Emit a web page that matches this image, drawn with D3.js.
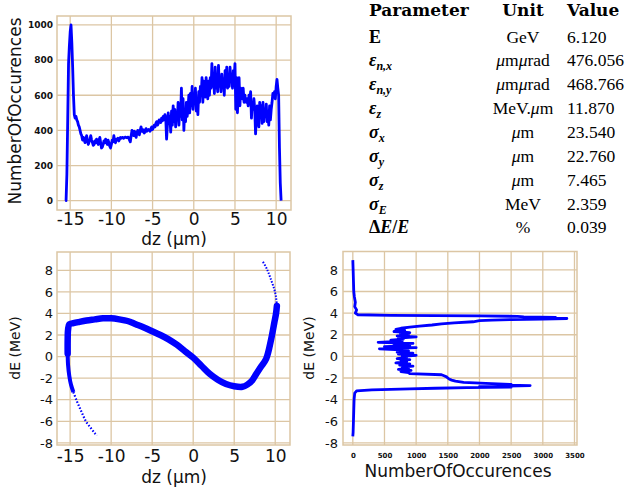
<!DOCTYPE html>
<html>
<head>
<meta charset="utf-8">
<script src="https://cdn.jsdelivr.net/npm/d3@7"></script>
<style>
  body { margin: 0; background: #fff; }
</style>
</head>
<body>
<div id="chart"></div>
<script>
// ---- longitudinal histogram (dz bins of 0.1 um starting at -15.6) ----
const dzStart = -15.6;
const dzStep = 0.1;
const dzCounts = [
  0, 0, 150, 460, 780, 880, 960,
  1000, 900, 760, 600, 490, 470, 480, 460, 450, 430,
  420, 400, 380, 370, 345, 360, 350, 330, 350, 370,
  340, 320, 335, 350, 370, 345, 330, 315, 320, 340,
  330, 350, 335, 320, 345, 360, 330, 300, 305, 320,
  340, 330, 350, 335, 320, 345, 330, 310, 300, 320,
  345, 335, 370, 340, 330, 350, 345, 355, 340, 350,
  360, 355, 360, 360, 355, 360, 362, 360, 358, 362,
  360, 345, 335, 370, 400, 385, 370, 395, 380, 360,
  385, 400, 390, 375, 400, 420, 395, 405, 390, 385,
  400, 410, 395, 400, 405, 400, 395, 410, 420, 405,
  415, 430, 420, 440, 450, 430, 440, 460, 450, 445,
  470, 455, 480, 460, 490, 470, 350, 430, 500, 440,
  480, 390, 510, 430, 540, 450, 520, 420, 500, 460,
  560, 430, 550, 480, 640, 460, 580, 400, 520, 450,
  560, 480, 520, 600, 500, 610, 540, 650, 520, 600,
  560, 640, 510, 580, 490, 620, 560, 650, 600, 700,
  560, 680, 600, 590, 700, 620, 580, 680, 600, 700,
  640, 780, 650, 720, 610, 760, 640, 700, 620, 770,
  650, 700, 620, 720, 650, 680, 600, 740, 650, 760,
  640, 700, 650, 760, 680, 720, 640, 740, 700, 780,
  520, 700, 500, 640, 700, 540, 640, 600, 580, 640,
  560, 600, 570, 560, 580, 540, 600, 570, 620, 470,
  560, 520, 580, 520, 380, 480, 540, 460, 420, 560,
  480, 540, 440, 560, 450, 520, 480, 550, 450, 500,
  430, 540, 460, 520, 560, 610, 590, 620, 580, 650,
  690, 640, 600, 300, 100, 0
];

// ---- longitudinal phase space (band centre line and sparse tails) ----
const bandDz = [-15.3, -15.3, -15.25, -15.1, -14.6, -14.0, -13.0, -12.0, -11.0, -10.0, -9.0, -8.0, -7.0,
  -6.0, -5.0, -4.0, -3.0, -2.0, -1.0, 0.0, 1.0, 2.0, 3.0, 4.0, 5.0, 6.0, 6.6, 7.2, 7.7, 8.3, 8.9, 9.5, 9.9, 10.1, 10.2];
const bandDe = [0.3, 1.5, 2.5, 3.0, 3.1, 3.2, 3.35, 3.45, 3.55, 3.55, 3.45, 3.3, 3.0,
  2.7, 2.35, 2.0, 1.6, 1.1, 0.5, -0.1, -0.85, -1.6, -2.15, -2.55, -2.75, -2.8, -2.6, -2.2, -1.6, -0.9, -0.2, 1.6, 3.2, 4.0, 4.7];
const leftTailDz = [-15.3, -15.25, -15.1, -14.9, -14.6, -14.2, -13.8, -13.4, -13.0, -12.5, -12.0, -11.7];
const leftTailDe = [0.3, -0.8, -1.8, -2.6, -3.3, -4.1, -4.8, -5.5, -6.1, -6.6, -7.1, -7.3];
const rightTailDz = [10.2, 10.1, 9.9, 9.5, 9.0, 8.5];
const rightTailDe = [4.7, 5.5, 6.2, 7.1, 8.1, 8.8];

// ---- energy histogram ----
const deLevels = [8.9, 8.0, 7.0, 6.0, 5.5, 5.0, 4.6, 4.3, 4.0, 3.85, 3.8, 3.75, 3.7, 3.65, 3.6, 3.55, 3.5, 3.45, 3.4, 3.35, 3.3,
  3.2, 3.1, 3.0, 2.9, 2.8, 2.7, 2.6, 2.5, 2.4, 2.3, 2.2, 2.1, 2.0, 1.9, 1.8, 1.7, 1.6, 1.5, 1.4, 1.3, 1.2, 1.1, 1.0,
  0.9, 0.8, 0.7, 0.6, 0.5, 0.4, 0.3, 0.2, 0.1, 0.0, -0.1, -0.2, -0.3, -0.4, -0.5, -0.6, -0.7, -0.8, -0.9, -1.0,
  -1.1, -1.2, -1.3, -1.4, -1.5, -1.6, -1.7, -1.8, -1.9, -2.0, -2.1, -2.2, -2.3, -2.4, -2.5, -2.6, -2.65, -2.7,
  -2.75, -2.8, -2.85, -2.9, -2.95, -3.0, -3.1, -3.2, -3.4, -4.0, -5.0, -6.0, -7.0, -7.4];
const deCounts = [0, 5, 10, 15, 25, 40, 30, 60, 40, 80, 600, 2000, 2600, 2700, 3200, 3000, 3380, 3000, 2500, 2200, 2000,
  1900, 1600, 1400, 1250, 1050, 900, 760, 680, 820, 650, 900, 750, 880, 700, 1000, 720, 800, 600, 780, 400, 950, 650, 900,
  500, 1000, 420, 750, 880, 700, 950, 720, 1000, 780, 850, 700, 900, 760, 850, 680, 900, 740, 950, 780,
  880, 720, 920, 760, 880, 900, 1400, 1440, 1480, 1500, 1520, 1560, 1620, 1750, 2100, 2500, 2300, 2800,
  2400, 2000, 2500, 1800, 1300, 900, 300, 60, 30, 20, 15, 10, 5, 0];

// ---- parameter table ----
const tableHeader = ["Parameter", "Unit", "Value"];
const tableSymbols = [
  [["E", "b"]],
  [["ε", "bi"], ["n,x", "sub"]],
  [["ε", "bi"], ["n,y", "sub"]],
  [["ε", "bi"], ["z", "sub"]],
  [["σ", "bi"], ["x", "sub"]],
  [["σ", "bi"], ["y", "sub"]],
  [["σ", "bi"], ["z", "sub"]],
  [["σ", "bi"], ["E", "sub"]],
  [["Δ", "b"], ["E", "bi"], ["/", "b"], ["E", "bi"]]
];
const tableUnits = ["GeV", "μmμrad", "μmμrad", "MeV.μm", "μm", "μm", "μm", "MeV", "%"];
const tableValues = ["6.120", "476.056", "468.766", "11.870", "23.540", "22.760", "7.465", "2.359", "0.039"];

const dzTicks = [-15, -10, -5, 0, 5, 10];
const countTicks = [0, 200, 400, 600, 800, 1000];
const deTicks = [-8, -6, -4, -2, 0, 2, 4, 6, 8];
const deCountTicks = [0, 500, 1000, 1500, 2000, 2500, 3000, 3500];

const width = 627;
const height = 489;
const gridColor = "#dcc6a4";
const blue = "#0000ff";
const sans = "DejaVu Sans, sans-serif";

const svg = d3.select("#chart").append("svg")
    .attr("width", width)
    .attr("height", height);

// draws grid + frame for one panel
function drawFrame(x, y, xTicks, yTicks) {
    const [x0, x1] = x.range();
    const [yb, yt] = y.range();
    const g = svg.append("g");
    g.selectAll(".vg").data(xTicks).join("line")
        .attr("x1", d => x(d)).attr("x2", d => x(d))
        .attr("y1", yt).attr("y2", yb)
        .attr("stroke", gridColor).attr("stroke-width", 1.3);
    g.selectAll(".hg").data(yTicks).join("line")
        .attr("x1", x0).attr("x2", x1)
        .attr("y1", d => y(d)).attr("y2", d => y(d))
        .attr("stroke", gridColor).attr("stroke-width", 1.3);
    g.append("rect")
        .attr("x", x0).attr("y", yt)
        .attr("width", x1 - x0).attr("height", yb - yt)
        .attr("fill", "none").attr("stroke", gridColor).attr("stroke-width", 1.5);
}

function drawAxes(x, y, xTicks, yTicks, opt) {
    const [yb] = y.range();
    const [x0] = x.range();
    const ax = svg.append("g")
        .attr("transform", `translate(0,${yb})`)
        .call(d3.axisBottom(x).tickValues(xTicks).tickSize(0).tickPadding(opt.xPad).tickFormat(d => String(d)));
    ax.select(".domain").remove();
    ax.selectAll("text").attr("font-family", sans).attr("font-size", opt.xSize)
        .attr("font-weight", opt.xBold ? "bold" : "normal").attr("fill", "#111");
    const ay = svg.append("g")
        .attr("transform", `translate(${x0},0)`)
        .call(d3.axisLeft(y).tickValues(yTicks).tickSize(0).tickPadding(opt.yPad).tickFormat(d => String(d)));
    ay.select(".domain").remove();
    ay.selectAll("text").attr("font-family", sans).attr("font-size", opt.ySize)
        .attr("font-weight", opt.yBold ? "bold" : "normal").attr("fill", "#111");
}

function title(text, x, y, size, rotate) {
    svg.append("text")
        .attr("transform", `translate(${x},${y})` + (rotate ? " rotate(-90)" : ""))
        .attr("text-anchor", "middle")
        .attr("font-family", sans)
        .attr("font-size", size)
        .attr("fill", "#111")
        .text(text);
}

// ---------- panel 1: dz histogram ----------
const x1 = d3.scaleLinear().domain([-16.6, 11.8]).range([57, 291]);
const y1 = d3.scaleLinear().domain([-53, 1051]).range([210, 16]);
drawFrame(x1, y1, dzTicks, countTicks);
drawAxes(x1, y1, dzTicks, countTicks, { xPad: 3, xSize: 17, yPad: 4, ySize: 9, yBold: true });
svg.append("path")
    .datum(dzCounts)
    .attr("fill", "none")
    .attr("stroke", blue)
    .attr("stroke-width", 2.8)
    .attr("stroke-linejoin", "round")
    .attr("d", d3.line().x((d, i) => x1(dzStart + i * dzStep)).y(d => y1(d)));
title("dz (μm)", 174, 245, 17, false);
title("NumberOfOccurences", 21, 111, 17, true);

// ---------- panel 2: dz vs dE ----------
const x2 = d3.scaleLinear().domain([-16.6, 11.8]).range([57, 290]);
const y2 = d3.scaleLinear().domain([-8.2, 9.7]).range([445, 252]);
drawFrame(x2, y2, dzTicks, deTicks);
drawAxes(x2, y2, dzTicks, deTicks, { xPad: 5, xSize: 17, yPad: 4, ySize: 13 });
const phaseLine = d3.line().x(d => x2(d[0])).y(d => y2(d[1])).curve(d3.curveCatmullRom);
const band = d3.zip(bandDz, bandDe);
const leftTail = d3.zip(leftTailDz, leftTailDe);
const rightTail = d3.zip(rightTailDz, rightTailDe);
svg.append("path").datum(band)
    .attr("fill", "none").attr("stroke", blue).attr("stroke-width", 6.5)
    .attr("stroke-linecap", "round").attr("d", phaseLine);
svg.append("path").datum(leftTail.slice(0, 5))
    .attr("fill", "none").attr("stroke", blue).attr("stroke-width", 4)
    .attr("d", phaseLine);
svg.append("path").datum(leftTail.slice(4))
    .attr("fill", "none").attr("stroke", blue).attr("stroke-width", 2.2)
    .attr("stroke-dasharray", "1.5,1.8").attr("d", phaseLine);
svg.append("path").datum(rightTail)
    .attr("fill", "none").attr("stroke", blue).attr("stroke-width", 2)
    .attr("stroke-dasharray", "1.5,1.5").attr("d", phaseLine);
title("dz (μm)", 174, 483, 17, false);
title("dE (MeV)", 20, 348, 14, true);

// ---------- panel 3: dE histogram ----------
const x3 = d3.scaleLinear().domain([-155, 3540]).range([343, 577]);
const y3 = d3.scaleLinear().domain([-8.2, 9.7]).range([445, 251.5]);
drawFrame(x3, y3, deCountTicks, deTicks);
drawAxes(x3, y3, deCountTicks, deTicks, { xPad: 8, xSize: 7, xBold: true, yPad: 5, ySize: 13 });
svg.append("path")
    .datum(d3.zip(deCounts, deLevels))
    .attr("fill", "none")
    .attr("stroke", blue)
    .attr("stroke-width", 2.8)
    .attr("stroke-linejoin", "round")
    .attr("d", d3.line().x(d => x3(d[0])).y(d => y3(d[1])));
title("NumberOfOccurences", 458, 477, 17, false);
title("dE (MeV)", 314, 348, 14, true);

// ---------- parameter table ----------
const serif = "Liberation Serif, serif";
const rowY = [16, 43, 66, 90, 114, 138, 162, 186, 210, 233];
const colParam = 369, colUnit = 523, colValue = 567;
const tbl = svg.append("g").attr("fill", "#000");

tbl.append("text").attr("x", colParam).attr("y", rowY[0]).text(tableHeader[0]);
tbl.append("text").attr("x", colUnit).attr("y", rowY[0]).attr("text-anchor", "middle").text(tableHeader[1]);
tbl.append("text").attr("x", colValue).attr("y", rowY[0]).text(tableHeader[2]);
tbl.selectAll("text").attr("font-family", "DejaVu Serif, serif").attr("font-weight", "bold").attr("font-size", 17);

tableSymbols.forEach((parts, i) => {
    const t = tbl.append("text").attr("x", colParam).attr("y", rowY[i + 1])
        .attr("font-family", serif).attr("font-size", 18);
    parts.forEach(([txt, kind]) => {
        const s = t.append("tspan").text(txt).attr("font-weight", "bold");
        if (kind === "bi") s.attr("font-style", "italic");
        if (kind === "sub") s.attr("font-style", "italic").attr("font-size", 12).attr("dy", 4);
    });
});

tableUnits.forEach((u, i) => {
    const t = tbl.append("text").attr("x", colUnit).attr("y", rowY[i + 1])
        .attr("text-anchor", "middle").attr("font-family", serif).attr("font-size", 17.5);
    u.split(/(μ)/).filter(p => p.length).forEach(p => {
        const s = t.append("tspan").text(p);
        if (p === "μ") s.attr("font-style", "italic");
    });
});

tableValues.forEach((v, i) => {
    tbl.append("text").attr("x", colValue).attr("y", rowY[i + 1])
        .attr("font-family", serif).attr("font-size", 17.5).text(v);
});
</script>
</body>
</html>
